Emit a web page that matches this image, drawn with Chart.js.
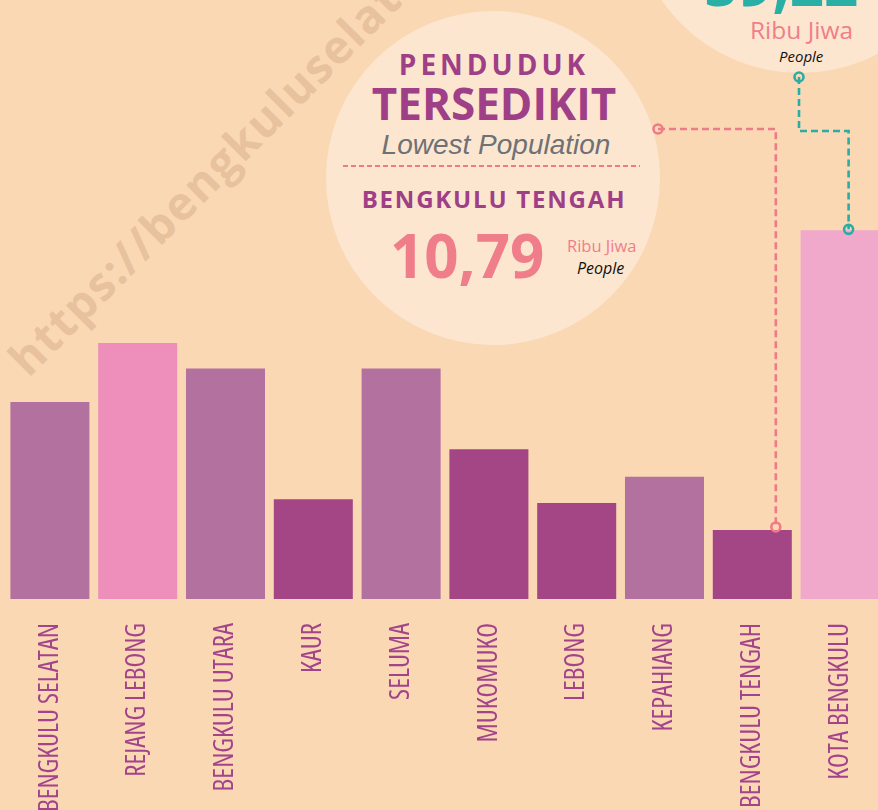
<!DOCTYPE html>
<html>
<head>
<meta charset="utf-8">
<script src="https://cdn.jsdelivr.net/npm/chart.js@4.4.1/dist/chart.umd.min.js"></script>
<style>
  html, body { margin: 0; padding: 0; }
  body { width: 878px; height: 810px; overflow: hidden; background: #fad8b4; position: relative; font-family: "Open Sans", sans-serif; }
  .wm { position: absolute; left: 32px; top: 336px; font: 700 46px "Open Sans", sans-serif; letter-spacing: 1.5px; color: #e8c19e; white-space: nowrap; transform-origin: 0 100%; transform: rotate(-45deg); line-height: 46px; z-index: 0; }
  .circle { position: absolute; border-radius: 50%; background: #fde6cf; z-index: 1; }
  .t { position: absolute; white-space: nowrap; line-height: 1; z-index: 2; }
  .c { transform: translateX(-50%); }
  canvas { position: absolute; left: 0; top: 0; z-index: 3; }
</style>
</head>
<body>
<div class="wm">https://bengkuluselatankab.bps.go.id</div>
<div class="circle" style="left:326px; top:11px; width:334px; height:334px;"></div>
<div class="circle" style="left:632px; top:-263px; width:336px; height:336px;"></div>

<div class="t c" style="left:494px; top:50px; font-size:28px; font-weight:700; color:#9f3f87; letter-spacing:4px;">PENDUDUK</div>
<div class="t c" style="left:494px; top:81px; font-size:44px; font-weight:700; color:#9f3f87;">TERSEDIKIT</div>
<div class="t c" style="left:496px; top:131px; font-size:28px; font-style:italic; font-family:'Liberation Sans', Arial, sans-serif; color:#6e7176;">Lowest Population</div>
<div class="t c" style="left:494px; top:187px; font-size:24px; font-weight:700; color:#9f3f87; letter-spacing:1.8px;">BENGKULU TENGAH</div>
<div class="t" style="left:390px; top:225px; font-size:60px; font-weight:700; color:#f07e8a;">10,79</div>
<div class="t" style="left:567px; top:238px; font-size:16.5px; color:#f07e8a;">Ribu Jiwa</div>
<div class="t" style="left:577px; top:260px; font-size:16px; font-style:italic; color:#111;">People</div>

<div class="t" style="left:704px; top:-47px; font-size:60px; font-weight:700; color:#2aafa7;">59,22</div>
<div class="t" style="left:750px; top:18px; font-size:24.5px; color:#f07e8a;">Ribu Jiwa</div>
<div class="t" style="left:779px; top:49px; font-size:15px; font-style:italic; color:#111;">People</div>

<canvas id="chart" width="890" height="810"></canvas>
<script>
const categories = ["BENGKULU SELATAN", "REJANG LEBONG", "BENGKULU UTARA", "KAUR", "SELUMA", "MUKOMUKO", "LEBONG", "KEPAHIANG", "BENGKULU TENGAH", "KOTA BENGKULU"];
const population = [30.8, 40.0, 36.0, 15.6, 36.0, 23.4, 15.0, 19.1, 10.79, 57.6];
const barColors = ["#b2719e", "#ee8fbb", "#b2719e", "#a44585", "#b2719e", "#a44585", "#a44585", "#b2719e", "#a44585", "#f0a8cb"];
const lowestIndex = 8;
const highestIndex = 9;

const connectorPlugin = {
  id: 'connectors',
  afterDatasetsDraw(chart) {
    const ctx = chart.ctx;
    const meta = chart.getDatasetMeta(0);
    const low = meta.data[lowestIndex];
    const high = meta.data[highestIndex];
    ctx.save();
    ctx.strokeStyle = '#ef7a88';
    ctx.lineWidth = 2;
    ctx.setLineDash([5, 3]);
    ctx.beginPath(); ctx.moveTo(343, 166); ctx.lineTo(640, 166); ctx.stroke();

    function path(color, pts) {
      ctx.strokeStyle = color;
      ctx.lineWidth = 2.6;
      ctx.setLineDash([7, 4]);
      ctx.beginPath();
      ctx.moveTo(pts[0][0], pts[0][1]);
      for (let i = 1; i < pts.length; i++) ctx.lineTo(pts[i][0], pts[i][1]);
      ctx.stroke();
      ctx.setLineDash([]);
      [pts[0], pts[pts.length - 1]].forEach(p => {
        ctx.beginPath(); ctx.arc(p[0], p[1], 4.5, 0, Math.PI * 2); ctx.stroke();
      });
    }
    const lx = low.x + 23.5;
    path('#ef7a88', [[658, 129], [lx, 129], [lx, low.y - 3]]);
    const hx = high.x + 8.5;
    path('#2aada6', [[799, 77], [799, 131], [hx, 131], [hx, high.y - 1]]);
    ctx.restore();
  }
};

new Chart(document.getElementById('chart'), {
  type: 'bar',
  data: {
    labels: categories,
    datasets: [{
      data: population,
      backgroundColor: barColors,
      barPercentage: 0.9,
      categoryPercentage: 1.0
    }]
  },
  options: {
    responsive: false,
    animation: false,
    layout: { padding: { left: 6, right: 6, top: 87, bottom: 0 } },
    plugins: { legend: { display: false }, tooltip: { enabled: false } },
    scales: {
      x: {
        grid: { display: false, drawTicks: false },
        border: { display: false },
        ticks: {
          color: '#a3448b',
          font: { family: "'Open Sans', sans-serif", size: 27, weight: 'condensed' },
          minRotation: 90, maxRotation: 90, autoSkip: false, padding: 24
        },
        afterFit(scale) {
          scale.height = 211;
          scale.paddingLeft = 0;
          scale.paddingRight = 0;
        }
      },
      y: { display: false, min: 0, max: 80 }
    }
  },
  plugins: [connectorPlugin]
});
</script>
</body>
</html>
